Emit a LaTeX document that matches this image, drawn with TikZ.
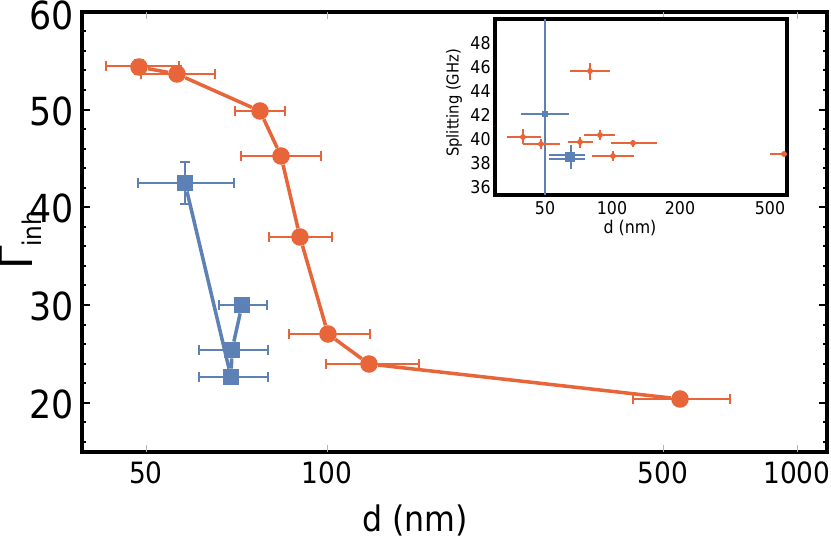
\documentclass[tikz,border=0pt]{standalone}
\usepackage{fontspec}
\setmainfont{DejaVu Sans Condensed}
\definecolor{orng}{HTML}{E8653A}
\definecolor{blu}{HTML}{5E81B5}
\tikzset{
  circ/.style={circle,fill=orng,inner sep=0pt,minimum size=15pt},
  sq/.style={rectangle,fill=blu,inner sep=0pt,minimum size=14pt},
  scirc/.style={circle,fill=orng,inner sep=0pt,minimum size=5pt},
  ssq/.style={rectangle,fill=blu,inner sep=0pt,minimum size=5pt},
  ebar/.style={line width=1.3pt,|-|},
}
\newcommand{\errx}[4]{\draw[ebar,#1] (#2,#4) -- (#3,#4);}
\newcommand{\erry}[4]{\draw[ebar,#1] (#4,#2) -- (#4,#3);}
\begin{document}
\begin{tikzpicture}[x=0.03cm,y=-0.03cm]
\useasboundingbox (0,0) rectangle (831,547);

% main frame
\draw[line width=4pt] (82,12) rectangle (827,452);
\foreach \y/\t in {60/15,50/111,40/208,30/306,20/404}
  \node[anchor=east,font=\fontsize{33}{33}\selectfont] (yl\y) at (78,\t) {\y};
\foreach \t in {12,110,207,305,403} {
  \draw[line width=2pt] (82,\t) -- (90,\t);
  \draw[line width=2pt] (827,\t) -- (819,\t);
}
\foreach \t in {31,51,70,90,129,149,168,188,227,246,266,285,325,344,364,383,422,442} {
  \draw[line width=1.5pt] (82,\t) -- (86,\t);
  \draw[line width=1.5pt] (827,\t) -- (823,\t);
}
\foreach \x/\l in {146/50,327/100,663/500,797/1000} {
  \draw[gray!60] (\x,452) -- (\x,445);
  \draw[gray!60] (\x,12) -- (\x,19);
  \node[font=\fontsize{25}{25}\selectfont] (xl\l) at (\x,473) {\l};
}
\node[font=\fontsize{30}{30}\selectfont] (xlab) at (415,520) {d (nm)};
\node[rotate=90,font=\fontsize{40}{40}\selectfont] (ylab) at (20,240) {Γ\textsubscript{\fontsize{22}{22}\selectfont inh}};

% orange series
\errx{orng}{105}{180}{66}
\errx{orng}{140}{216}{74}
\erry{orng}{59}{75}{139}
\erry{orng}{65}{81}{177}
\errx{orng}{234}{286}{111}
\errx{orng}{240}{322}{156}
\errx{orng}{268}{333}{237}
\errx{orng}{288}{371}{334}
\errx{orng}{325}{420}{364}
\errx{orng}{632}{731}{399}
\foreach \n/\x/\y in {1/139/67,2/177/74,3/260/111,4/281/156,5/300/237,6/328/334,7/369/364,8/680/399}
  \node[circ] (o\n) at (\x,\y) {};
\draw[orng,line width=3pt] (o1) -- (o2) -- (o3) -- (o4) -- (o5) -- (o6) -- (o7) -- (o8);

% blue series
\errx{blu}{137}{235}{183}
\erry{blu}{161}{205}{185}
\errx{blu}{218}{268}{305}
\errx{blu}{198}{269}{350}
\errx{blu}{198}{269}{377}
\foreach \n/\x/\y in {1/185/183,2/231/377,3/232/350,4/242/305}
  \node[sq] (b\n) at (\x,\y) {};
\draw[blu,line width=3pt] (b1) -- (b2) -- (b3) -- (b4);

% inset
\fill[white] (495,19) rectangle (787,195);
\draw[line width=3.5pt] (495,19) rectangle (787,195);
\foreach \v/\t in {48/43,46/67,44/91,42/115,40/139,38/163,36/187}
  \node[anchor=east,font=\fontsize{15}{15}\selectfont,inner sep=1pt] (il\v) at (492,\t) {\v};
\foreach \x/\l in {545/50,612/100,680/200,770/500}
  \node[font=\fontsize{15}{15}\selectfont] (ixl\l) at (\x,208) {\l};
\node[font=\fontsize{15}{15}\selectfont] (ixlab) at (630,228) {d (nm)};
\node[rotate=90,font=\fontsize{14}{14}\selectfont] (iylab) at (454,103) {Splitting (GHz)};
\draw[blu,line width=1.3pt] (545,19) -- (545,195);
\foreach \a/\b/\y in {570/610/71,507/541/137,523/560/144,568/593/142,584/615/135,611/657/143,592/634/156,770/787/154}
  \draw[orng,line width=1.2pt] (\a,\y) -- (\b,\y);
\foreach \n/\x/\y in {1/590/71,2/523/137,3/541/144,4/580/142,5/600/135,6/633/143,7/613/156,8/784/154}
  \node[scirc] (io\n) at (\x,\y) {};
\foreach \x/\a/\b in {590/63/80,523/129/144,541/139/149,580/137/148,600/130/140,633/140/147,613/151/161}
  \draw[orng,line width=1.2pt] (\x,\a) -- (\x,\b);
\draw[blu,line width=1.2pt] (521,114) -- (569,114);
\draw[blu,line width=1.2pt] (549,155) -- (585,155) (549,159) -- (585,159) (571,145) -- (571,169);
\node[ssq] (ib1) at (545,114) {};
\node[ssq,minimum size=8pt] (ib2) at (570,157) {};
\end{tikzpicture}
\end{document}
